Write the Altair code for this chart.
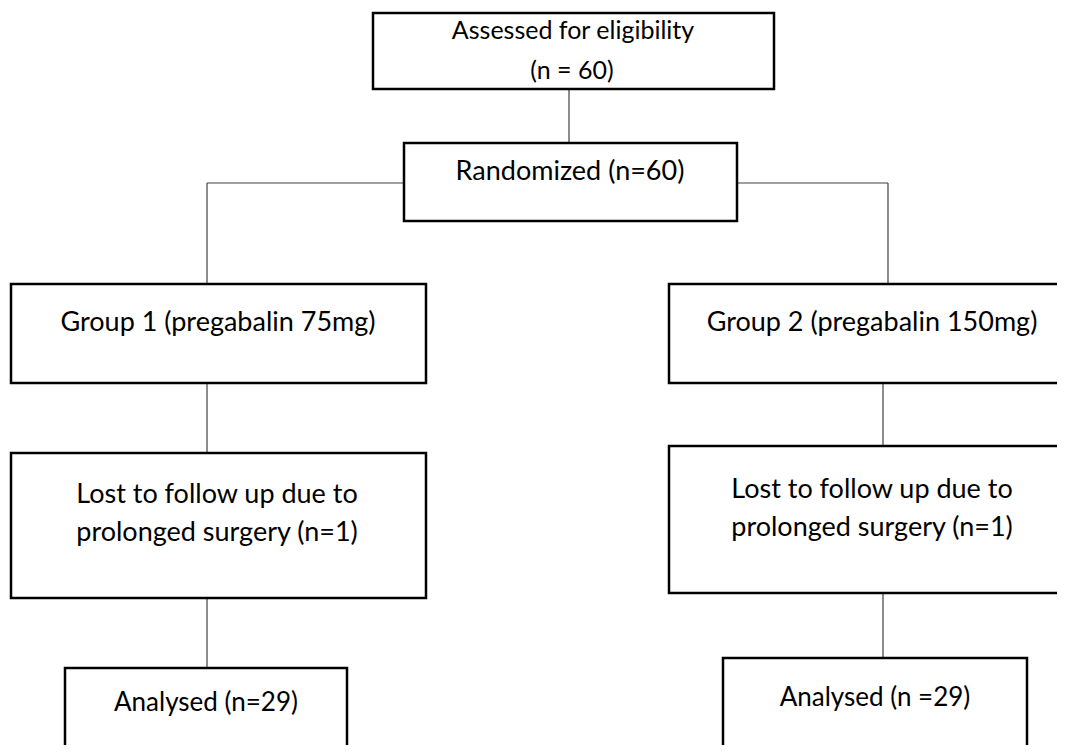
import altair as alt
import pandas as pd

# Boxes of the flow diagram (pixel coordinates in the diagram space)
box_names = ["assessed", "randomized", "group1", "group2", "lost1", "lost2", "analysed1", "analysed2"]
box_x0 = [373, 404, 11, 669, 11, 669, 65, 723]
box_x1 = [774, 737, 426, 1072, 426, 1072, 347, 1027]
box_y0 = [13, 143, 284, 284, 453, 446, 668, 658]
box_y1 = [89, 221, 383, 383, 598, 593, 765, 765]

# Connector lines
line_x0 = [569, 207, 207, 737, 888, 207, 883, 207, 883]
line_y0 = [89, 183, 183, 183, 183, 383, 383, 598, 593]
line_x1 = [569, 404, 207, 888, 888, 207, 883, 207, 883]
line_y1 = [143, 183, 284, 183, 284, 453, 446, 668, 658]

# Text labels
label_text = [
    "Assessed for eligibility", "(n = 60)", "Randomized (n=60)",
    "Group 1 (pregabalin 75mg)", "Group 2 (pregabalin 150mg)",
    "Lost to follow up due to", "prolonged surgery (n=1)",
    "Lost to follow up due to", "prolonged surgery (n=1)",
    "Analysed (n=29)", "Analysed (n =29)",
]
label_x = [573, 572, 570, 218, 872, 217, 217, 872, 872, 206, 875]
label_y = [31, 71, 172, 323, 323, 495, 533, 490, 528, 703, 698]
label_size = [25, 25, 27, 27, 27, 27, 27, 27, 27, 26, 26]

boxes = pd.DataFrame({"name": box_names, "x0": box_x0, "x1": box_x1, "y0": box_y0, "y1": box_y1})
lines = pd.DataFrame({"x0": line_x0, "y0": line_y0, "x1": line_x1, "y1": line_y1})
labels = pd.DataFrame({"text": label_text, "x": label_x, "y": label_y, "size": label_size})

xs = alt.Scale(domain=[8, 1057], nice=False, zero=False)
ys = alt.Scale(domain=[8, 745], nice=False, zero=False, reverse=True)

rules = alt.Chart(lines).mark_rule(color="#404040", strokeWidth=1.2, clip=True).encode(
    x=alt.X("x0:Q", scale=xs, axis=None),
    y=alt.Y("y0:Q", scale=ys, axis=None),
    x2="x1:Q",
    y2="y1:Q",
)

rects = alt.Chart(boxes).mark_rect(fill="white", stroke="black", strokeWidth=2.5, clip=True).encode(
    x=alt.X("x0:Q", scale=xs, axis=None),
    x2="x1:Q",
    y=alt.Y("y0:Q", scale=ys, axis=None),
    y2="y1:Q",
)

texts = alt.Chart(labels).mark_text(
    font="Lato", color="black", align="center", baseline="middle"
).encode(
    x=alt.X("x:Q", scale=xs, axis=None),
    y=alt.Y("y:Q", scale=ys, axis=None),
    text="text:N",
    size=alt.Size("size:Q", scale=None, legend=None),
)

chart = alt.layer(rules, rects, texts).properties(
    width=1049, height=737, padding=0, background="white"
).configure_view(stroke=None)

chart.save("out.html", embed_options={"renderer": "svg", "actions": False})
